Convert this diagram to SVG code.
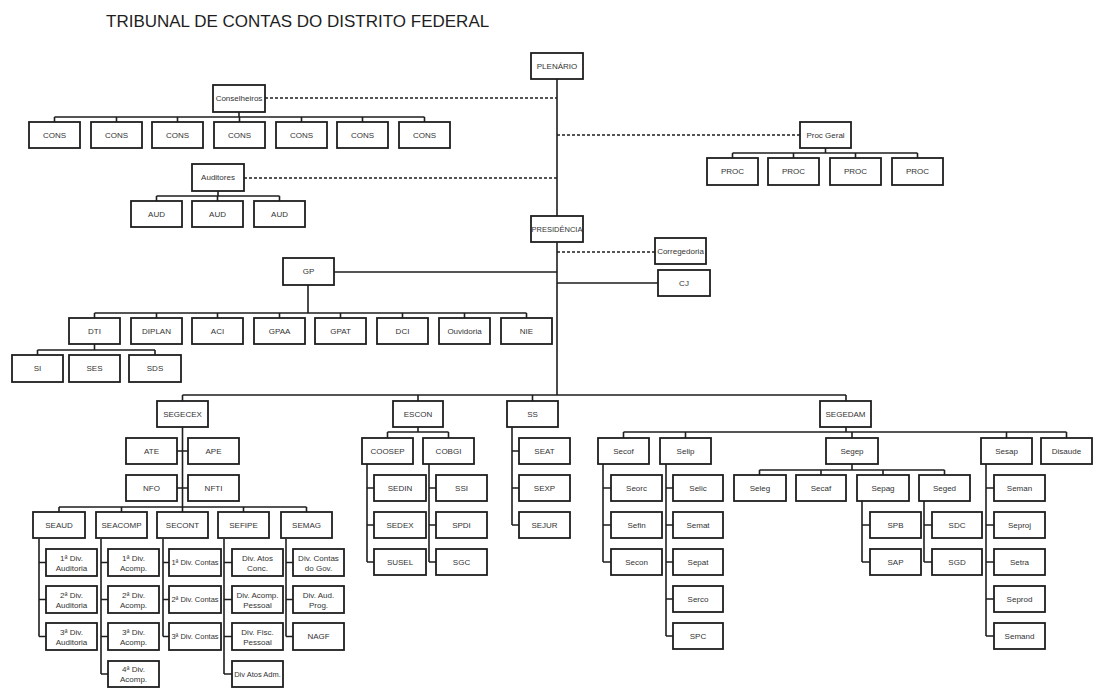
<svg xmlns="http://www.w3.org/2000/svg" width="1093" height="688" viewBox="0 0 1093 688">
<style>
rect{fill:#fff;stroke:#1e1e1e;stroke-width:1.8}
text{font-family:"Liberation Sans",Arial,sans-serif;font-size:8px;fill:#333;text-anchor:middle}
.title{font-size:17px;fill:#1e1e1e;text-anchor:start}
#connectors path{fill:none;stroke:#1e1e1e;stroke-width:1.6}
#connectors path.d{stroke-dasharray:3 2;stroke-width:1.5}
</style>
<rect width="1093" height="688" style="fill:#fff;stroke:none"/>
<text class="title" x="106" y="27">TRIBUNAL DE CONTAS DO DISTRITO FEDERAL</text>
<g id="connectors">
<path class="d" d="M265,98H557M244,178H557M557,135H800M557,252H655"/>
<path d="M557,79V216M557,242V395M557,283H658M334,272H557"/>
<path d="M239,112V117M54.5,117H424.5M54.5,117V122M116.5,117V122M177.5,117V122M239.5,117V122M301.5,117V122M362.5,117V122M424.5,117V122"/>
<path d="M218,191V196M156.5,196H279.5M156.5,196V201M217.5,196V201M279.5,196V201"/>
<path d="M825.5,148V153M732.5,153H917.5M732.5,153V158M793.5,153V158M855.5,153V158M917.5,153V158"/>
<path d="M308,285V313M94.5,313H526.5M94.5,313V318M156.5,313V318M217.5,313V318M279.5,313V318M340.5,313V318M402.5,313V318M464.5,313V318M526.5,313V318"/>
<path d="M94.5,344V350M37.5,350H155M37.5,350V355M155,350V355"/>
<path d="M182.5,395H846M182.5,395V401M418,395V401M532.5,395V401M846,395V401"/>
<path d="M182.5,427V512M177,451H188M177,488H188M59,507H306.5M59,507V512M121.5,507V512M243.5,507V512M306.5,507V512"/>
<path d="M39,539V562.5M39,562.5V636.5M39,562.5H46M39,599.5H46M39,636.5H46"/>
<path d="M101,539V674M101,562.5H108M101,599.5H108M101,636.5H108M101,674H108"/>
<path d="M163,539V636.5M163,562.5H169M163,599.5H169M163,636.5H169"/>
<path d="M224,539V674M224,562.5H232M224,599.5H232M224,636.5H232M224,674H232"/>
<path d="M286,539V636.5M286,562.5H293M286,599.5H293M286,636.5H293"/>
<path d="M418,427V432M387.5,432H448.5M387.5,432V438M448.5,432V438"/>
<path d="M367,464V562M367,488H374M367,525H374M367,562H374"/>
<path d="M429,464V562M429,488H436M429,525H436M429,562H436"/>
<path d="M512,427V525M512,451H519M512,488H519M512,525H519"/>
<path d="M846,427V432M623.5,432H1066.5M623.5,432V438M685.5,432V438M852,432V438M1006.5,432V438M1066.5,432V438"/>
<path d="M603,464V562M603,488H611M603,525H611M603,562H611"/>
<path d="M666,464V636M666,488H673M666,525H673M666,562H673M666,599H673M666,636H673"/>
<path d="M852,464V470M759.5,470H944.5M759.5,470V475M821,470V475M883,470V475M944.5,470V475"/>
<path d="M862,501V562M862,525H870M862,562H870"/>
<path d="M924,501V562M924,525H932M924,562H932"/>
<path d="M986,464V636M986,488H994M986,525H994M986,562H994M986,599H994M986,636H994"/>
</g>
<g id="plenario"><rect x="531" y="53" width="52" height="26"/><text x="557" y="68.8">PLENÁRIO</text></g>
<g id="conselheiros"><rect x="213" y="85" width="52" height="27"/><text x="239" y="101.3">Conselheiros</text></g>
<g id="cons1"><rect x="29" y="122" width="51" height="26"/><text x="54.5" y="137.8">CONS</text></g>
<g id="cons2"><rect x="91" y="122" width="51" height="26"/><text x="116.5" y="137.8">CONS</text></g>
<g id="cons3"><rect x="152" y="122" width="51" height="26"/><text x="177.5" y="137.8">CONS</text></g>
<g id="cons4"><rect x="214" y="122" width="51" height="26"/><text x="239.5" y="137.8">CONS</text></g>
<g id="cons5"><rect x="276" y="122" width="51" height="26"/><text x="301.5" y="137.8">CONS</text></g>
<g id="cons6"><rect x="337" y="122" width="51" height="26"/><text x="362.5" y="137.8">CONS</text></g>
<g id="cons7"><rect x="399" y="122" width="51" height="26"/><text x="424.5" y="137.8">CONS</text></g>
<g id="auditores"><rect x="192" y="164" width="52" height="27"/><text x="218" y="180.3">Auditores</text></g>
<g id="aud1"><rect x="131" y="201" width="51" height="26"/><text x="156.5" y="216.8">AUD</text></g>
<g id="aud2"><rect x="192" y="201" width="51" height="26"/><text x="217.5" y="216.8">AUD</text></g>
<g id="aud3"><rect x="254" y="201" width="51" height="26"/><text x="279.5" y="216.8">AUD</text></g>
<g id="procgeral"><rect x="800" y="122" width="51" height="26"/><text x="825.5" y="137.8">Proc Geral</text></g>
<g id="proc1"><rect x="707" y="158" width="51" height="27"/><text x="732.5" y="174.3">PROC</text></g>
<g id="proc2"><rect x="768" y="158" width="51" height="27"/><text x="793.5" y="174.3">PROC</text></g>
<g id="proc3"><rect x="830" y="158" width="51" height="27"/><text x="855.5" y="174.3">PROC</text></g>
<g id="proc4"><rect x="892" y="158" width="51" height="27"/><text x="917.5" y="174.3">PROC</text></g>
<g id="presidencia"><rect x="531" y="216" width="52" height="26"/><text x="557" y="231.8" style="font-size:7.5px">PRESIDÊNCIA</text></g>
<g id="corregedoria"><rect x="655" y="238" width="51" height="26"/><text x="680.5" y="253.8">Corregedoria</text></g>
<g id="cj"><rect x="658" y="270" width="52" height="26"/><text x="684" y="285.8">CJ</text></g>
<g id="gp"><rect x="283" y="258" width="51" height="27"/><text x="308.5" y="274.3">GP</text></g>
<g id="dti"><rect x="69" y="318" width="51" height="26"/><text x="94.5" y="333.8">DTI</text></g>
<g id="diplan"><rect x="131" y="318" width="51" height="26"/><text x="156.5" y="333.8">DIPLAN</text></g>
<g id="aci"><rect x="192" y="318" width="51" height="26"/><text x="217.5" y="333.8">ACI</text></g>
<g id="gpaa"><rect x="254" y="318" width="51" height="26"/><text x="279.5" y="333.8">GPAA</text></g>
<g id="gpat"><rect x="315" y="318" width="51" height="26"/><text x="340.5" y="333.8">GPAT</text></g>
<g id="dci"><rect x="377" y="318" width="51" height="26"/><text x="402.5" y="333.8">DCI</text></g>
<g id="ouvidoria"><rect x="439" y="318" width="51" height="26"/><text x="464.5" y="333.8">Ouvidoria</text></g>
<g id="nie"><rect x="501" y="318" width="51" height="26"/><text x="526.5" y="333.8">NIE</text></g>
<g id="si"><rect x="12" y="355" width="51" height="27"/><text x="37.5" y="371.3">SI</text></g>
<g id="ses"><rect x="69" y="355" width="51" height="27"/><text x="94.5" y="371.3">SES</text></g>
<g id="sds"><rect x="129" y="355" width="52" height="27"/><text x="155" y="371.3">SDS</text></g>
<g id="segecex"><rect x="157" y="401" width="51" height="26"/><text x="182.5" y="416.8">SEGECEX</text></g>
<g id="escon"><rect x="393" y="401" width="50" height="26"/><text x="418" y="416.8">ESCON</text></g>
<g id="ss"><rect x="507" y="401" width="51" height="26"/><text x="532.5" y="416.8">SS</text></g>
<g id="segedam"><rect x="820" y="401" width="51" height="26"/><text x="845.5" y="416.8">SEGEDAM</text></g>
<g id="ate"><rect x="126" y="438" width="51" height="26"/><text x="151.5" y="453.8">ATE</text></g>
<g id="ape"><rect x="188" y="438" width="51" height="26"/><text x="213.5" y="453.8">APE</text></g>
<g id="nfo"><rect x="126" y="475" width="51" height="26"/><text x="151.5" y="490.8">NFO</text></g>
<g id="nfti"><rect x="188" y="475" width="51" height="26"/><text x="213.5" y="490.8">NFTI</text></g>
<g id="seaud"><rect x="33" y="512" width="52" height="26"/><text x="59" y="527.8">SEAUD</text></g>
<g id="seacomp"><rect x="96" y="512" width="51" height="26"/><text x="121.5" y="527.8">SEACOMP</text></g>
<g id="secont"><rect x="157" y="512" width="51" height="26"/><text x="182.5" y="527.8">SECONT</text></g>
<g id="sefipe"><rect x="218" y="512" width="51" height="26"/><text x="243.5" y="527.8">SEFIPE</text></g>
<g id="semag"><rect x="281" y="512" width="51" height="26"/><text x="306.5" y="527.8">SEMAG</text></g>
<g id="seaud1"><rect x="46" y="549" width="51" height="27"/><text x="71.5" y="560.5">1ª Div.</text><text x="71.5" y="570.5">Auditoria</text></g>
<g id="seaud2"><rect x="46" y="586" width="51" height="27"/><text x="71.5" y="597.5">2ª Div.</text><text x="71.5" y="607.5">Auditoria</text></g>
<g id="seaud3"><rect x="46" y="623" width="51" height="27"/><text x="71.5" y="634.5">3ª Div.</text><text x="71.5" y="644.5">Auditoria</text></g>
<g id="seacomp1"><rect x="108" y="549" width="51" height="27"/><text x="133.5" y="560.5">1ª Div.</text><text x="133.5" y="570.5">Acomp.</text></g>
<g id="seacomp2"><rect x="108" y="586" width="51" height="27"/><text x="133.5" y="597.5">2ª Div.</text><text x="133.5" y="607.5">Acomp.</text></g>
<g id="seacomp3"><rect x="108" y="623" width="51" height="27"/><text x="133.5" y="634.5">3ª Div.</text><text x="133.5" y="644.5">Acomp.</text></g>
<g id="seacomp4"><rect x="108" y="661" width="51" height="26"/><text x="133.5" y="672">4ª Div.</text><text x="133.5" y="682">Acomp.</text></g>
<g id="secont1"><rect x="169" y="549" width="52" height="27"/><text x="195" y="565.3" style="font-size:7.5px">1ª Div. Contas</text></g>
<g id="secont2"><rect x="169" y="586" width="52" height="27"/><text x="195" y="602.3" style="font-size:7.5px">2ª Div. Contas</text></g>
<g id="secont3"><rect x="169" y="623" width="52" height="27"/><text x="195" y="639.3" style="font-size:7.5px">3ª Div. Contas</text></g>
<g id="sefipe1"><rect x="232" y="549" width="51" height="27"/><text x="257.5" y="560.5">Div. Atos</text><text x="257.5" y="570.5">Conc.</text></g>
<g id="sefipe2"><rect x="232" y="586" width="51" height="27"/><text x="257.5" y="597.5">Div. Acomp.</text><text x="257.5" y="607.5">Pessoal</text></g>
<g id="sefipe3"><rect x="232" y="623" width="51" height="27"/><text x="257.5" y="634.5">Div. Fisc.</text><text x="257.5" y="644.5">Pessoal</text></g>
<g id="sefipe4"><rect x="232" y="661" width="51" height="26"/><text x="257.5" y="677" style="font-size:7.5px">Div Atos Adm.</text></g>
<g id="semag1"><rect x="293" y="549" width="51" height="27"/><text x="318.5" y="560.5">Div. Contas</text><text x="318.5" y="570.5">do Gov.</text></g>
<g id="semag2"><rect x="293" y="586" width="51" height="27"/><text x="318.5" y="597.5">Div. Aud.</text><text x="318.5" y="607.5">Prog.</text></g>
<g id="semag3"><rect x="293" y="623" width="51" height="27"/><text x="318.5" y="639.3">NAGF</text></g>
<g id="coosep"><rect x="362" y="438" width="51" height="26"/><text x="387.5" y="453.8">COOSEP</text></g>
<g id="cobgi"><rect x="423" y="438" width="51" height="26"/><text x="448.5" y="453.8">COBGI</text></g>
<g id="sedin"><rect x="374" y="475" width="52" height="26"/><text x="400" y="490.8">SEDIN</text></g>
<g id="sedex"><rect x="374" y="512" width="52" height="26"/><text x="400" y="527.8">SEDEX</text></g>
<g id="susel"><rect x="374" y="549" width="52" height="26"/><text x="400" y="564.8">SUSEL</text></g>
<g id="ssi"><rect x="436" y="475" width="51" height="26"/><text x="461.5" y="490.8">SSI</text></g>
<g id="spdi"><rect x="436" y="512" width="51" height="26"/><text x="461.5" y="527.8">SPDI</text></g>
<g id="sgc"><rect x="436" y="549" width="51" height="26"/><text x="461.5" y="564.8">SGC</text></g>
<g id="seat"><rect x="519" y="438" width="51" height="26"/><text x="544.5" y="453.8">SEAT</text></g>
<g id="sexp"><rect x="519" y="475" width="51" height="26"/><text x="544.5" y="490.8">SEXP</text></g>
<g id="sejur"><rect x="519" y="512" width="51" height="26"/><text x="544.5" y="527.8">SEJUR</text></g>
<g id="secof"><rect x="598" y="438" width="51" height="26"/><text x="623.5" y="453.8">Secof</text></g>
<g id="selip"><rect x="660" y="438" width="51" height="26"/><text x="685.5" y="453.8">Selip</text></g>
<g id="segep"><rect x="826" y="438" width="52" height="26"/><text x="852" y="453.8">Segep</text></g>
<g id="sesap"><rect x="981" y="438" width="51" height="26"/><text x="1006.5" y="453.8">Sesap</text></g>
<g id="disaude"><rect x="1041" y="438" width="51" height="26"/><text x="1066.5" y="453.8">Disaude</text></g>
<g id="seorc"><rect x="611" y="475" width="51" height="26"/><text x="636.5" y="490.8">Seorc</text></g>
<g id="sefin"><rect x="611" y="512" width="51" height="26"/><text x="636.5" y="527.8">Sefin</text></g>
<g id="secon"><rect x="611" y="549" width="51" height="26"/><text x="636.5" y="564.8">Secon</text></g>
<g id="selic"><rect x="673" y="475" width="50" height="26"/><text x="698" y="490.8">Selic</text></g>
<g id="semat"><rect x="673" y="512" width="50" height="26"/><text x="698" y="527.8">Semat</text></g>
<g id="sepat"><rect x="673" y="549" width="50" height="26"/><text x="698" y="564.8">Sepat</text></g>
<g id="serco"><rect x="673" y="586" width="50" height="26"/><text x="698" y="601.8">Serco</text></g>
<g id="spc"><rect x="673" y="623" width="50" height="26"/><text x="698" y="638.8">SPC</text></g>
<g id="seleg"><rect x="734" y="475" width="52" height="26"/><text x="760" y="490.8">Seleg</text></g>
<g id="secaf"><rect x="796" y="475" width="50" height="26"/><text x="821" y="490.8">Secaf</text></g>
<g id="sepag"><rect x="857" y="475" width="52" height="26"/><text x="883" y="490.8">Sepag</text></g>
<g id="seged"><rect x="919" y="475" width="51" height="26"/><text x="944.5" y="490.8">Seged</text></g>
<g id="spb"><rect x="870" y="512" width="51" height="26"/><text x="895.5" y="527.8">SPB</text></g>
<g id="sap"><rect x="870" y="549" width="51" height="26"/><text x="895.5" y="564.8">SAP</text></g>
<g id="sdc"><rect x="932" y="512" width="50" height="26"/><text x="957" y="527.8">SDC</text></g>
<g id="sgd"><rect x="932" y="549" width="50" height="26"/><text x="957" y="564.8">SGD</text></g>
<g id="seman"><rect x="994" y="475" width="51" height="26"/><text x="1019.5" y="490.8">Seman</text></g>
<g id="seproj"><rect x="994" y="512" width="51" height="26"/><text x="1019.5" y="527.8">Seproj</text></g>
<g id="setra"><rect x="994" y="549" width="51" height="26"/><text x="1019.5" y="564.8">Setra</text></g>
<g id="seprod"><rect x="994" y="586" width="51" height="26"/><text x="1019.5" y="601.8">Seprod</text></g>
<g id="semand"><rect x="994" y="623" width="51" height="26"/><text x="1019.5" y="638.8">Semand</text></g>
</svg>
